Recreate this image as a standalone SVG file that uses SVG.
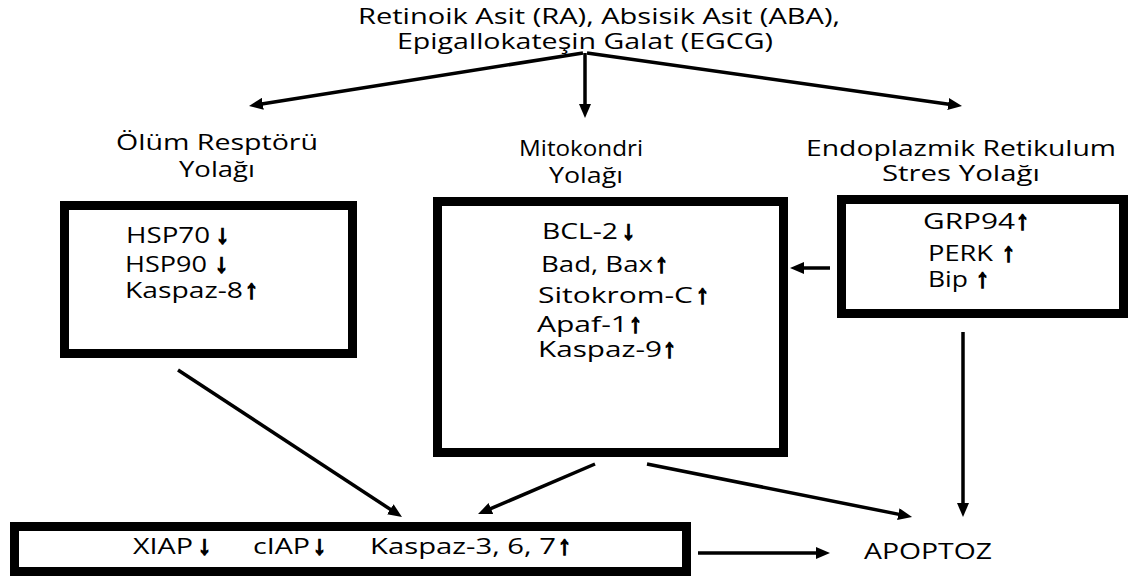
<svg xmlns="http://www.w3.org/2000/svg" width="1131" height="579" viewBox="0 0 1131 579">
<defs>
<marker id="ah" markerUnits="userSpaceOnUse" markerWidth="14" markerHeight="12" refX="6" refY="6" orient="auto">
<path d="M0,0 L14,6 L0,12 z" fill="#000"/>
</marker>
<style>
.t{font-family:"Open Sans","Liberation Sans",sans-serif;font-size:21.5px;fill:#000}
.h{font-family:"Open Sans","Liberation Sans",sans-serif;font-size:21.5px;fill:#000}
.a{font-family:"Liberation Sans","DejaVu Sans",sans-serif;font-size:26px;font-weight:bold;fill:#000;stroke:#000;stroke-width:1.6}
.box{fill:#fff;stroke:#000;stroke-width:9}
.c{fill:none;stroke:#000;stroke-width:3.5;marker-end:url(#ah)}
</style>
</defs>
<rect width="1131" height="579" fill="#fff"/>

<g id="connectors">
<path class="c" d="M583,53 L256.9,104.7"/>
<path class="c" d="M585,53 L585,110"/>
<path class="c" d="M587,53 L954.1,104.9"/>
<path class="c" d="M830,268 L798,268"/>
<path class="c" d="M178,370 L395.3,512.6"/>
<path class="c" d="M595,464 L485.4,510.9"/>
<path class="c" d="M647,464 L904.2,515.4"/>
<path class="c" d="M963,332 L963,509"/>
<path class="c" d="M698,553 L822,553"/>
</g>

<g id="title">
<text class="h" x="358" y="24" textLength="482" lengthAdjust="spacingAndGlyphs">Retinoik Asit (RA), Absisik Asit (ABA),</text>
<text class="h" x="397" y="49" textLength="376" lengthAdjust="spacingAndGlyphs">Epigallokateşin Galat (EGCG)</text>
</g>

<g id="header-olum">
<text class="h" x="116" y="150" textLength="202" lengthAdjust="spacingAndGlyphs">Ölüm Resptörü</text>
<text class="h" x="179" y="177" textLength="76" lengthAdjust="spacingAndGlyphs">Yolağı</text>
</g>
<g id="header-mito">
<text class="h" x="519" y="156" textLength="124" lengthAdjust="spacingAndGlyphs">Mitokondri</text>
<text class="h" x="549" y="183" textLength="74" lengthAdjust="spacingAndGlyphs">Yolağı</text>
</g>
<g id="header-er">
<text class="h" x="806" y="156" textLength="310" lengthAdjust="spacingAndGlyphs">Endoplazmik Retikulum</text>
<text class="h" x="882" y="181" textLength="158" lengthAdjust="spacingAndGlyphs">Stres Yolağı</text>
</g>

<g id="box-olum">
<rect class="box" x="64.5" y="205.5" width="288" height="148"/>
<text class="t" y="243"><tspan x="126" textLength="84" lengthAdjust="spacingAndGlyphs">HSP70</tspan><tspan class="a" x="216">↓</tspan></text>
<text class="t" y="272"><tspan x="125" textLength="82" lengthAdjust="spacingAndGlyphs">HSP90</tspan><tspan class="a" x="215">↓</tspan></text>
<text class="t" y="298"><tspan x="125" textLength="118" lengthAdjust="spacingAndGlyphs">Kaspaz-8</tspan><tspan class="a" x="245">↑</tspan></text>
</g>

<g id="box-mito">
<rect class="box" x="437.5" y="201.5" width="346" height="251"/>
<text class="t" y="239"><tspan x="542" textLength="76" lengthAdjust="spacingAndGlyphs">BCL-2</tspan><tspan class="a" x="622">↓</tspan></text>
<text class="t" y="272"><tspan x="541" textLength="112" lengthAdjust="spacingAndGlyphs">Bad, Bax</tspan><tspan class="a" x="655">↑</tspan></text>
<text class="t" y="303"><tspan x="538" textLength="155" lengthAdjust="spacingAndGlyphs">Sitokrom-C</tspan><tspan class="a" x="696">↑</tspan></text>
<text class="t" y="332"><tspan x="537" textLength="91" lengthAdjust="spacingAndGlyphs">Apaf-1</tspan><tspan class="a" x="629">↑</tspan></text>
<text class="t" y="357"><tspan x="538" textLength="124" lengthAdjust="spacingAndGlyphs">Kaspaz-9</tspan><tspan class="a" x="663">↑</tspan></text>
</g>

<g id="box-er">
<rect class="box" x="841.5" y="199.5" width="282" height="114"/>
<text class="t" y="229"><tspan x="923" textLength="92" lengthAdjust="spacingAndGlyphs">GRP94</tspan><tspan class="a" x="1016">↑</tspan></text>
<text class="t" y="261"><tspan x="928" textLength="65" lengthAdjust="spacingAndGlyphs">PERK</tspan><tspan class="a" x="1002">↑</tspan></text>
<text class="t" y="287"><tspan x="928" textLength="40" lengthAdjust="spacingAndGlyphs">Bip</tspan><tspan class="a" x="976">↑</tspan></text>
</g>

<g id="box-kaspaz">
<rect class="box" x="14.5" y="526.5" width="672" height="45"/>
<text class="t" y="554"><tspan x="133" textLength="60" lengthAdjust="spacingAndGlyphs">XIAP</tspan><tspan class="a" x="198">↓</tspan></text>
<text class="t" y="554"><tspan x="253" textLength="57" lengthAdjust="spacingAndGlyphs">cIAP</tspan><tspan class="a" x="313">↓</tspan></text>
<text class="t" y="554"><tspan x="370" textLength="186" lengthAdjust="spacingAndGlyphs">Kaspaz-3, 6, 7</tspan><tspan class="a" x="558">↑</tspan></text>
</g>

<g id="apoptoz">
<text class="h" x="864" y="559" font-size="20" textLength="128" lengthAdjust="spacingAndGlyphs">APOPTOZ</text>
</g>
</svg>
